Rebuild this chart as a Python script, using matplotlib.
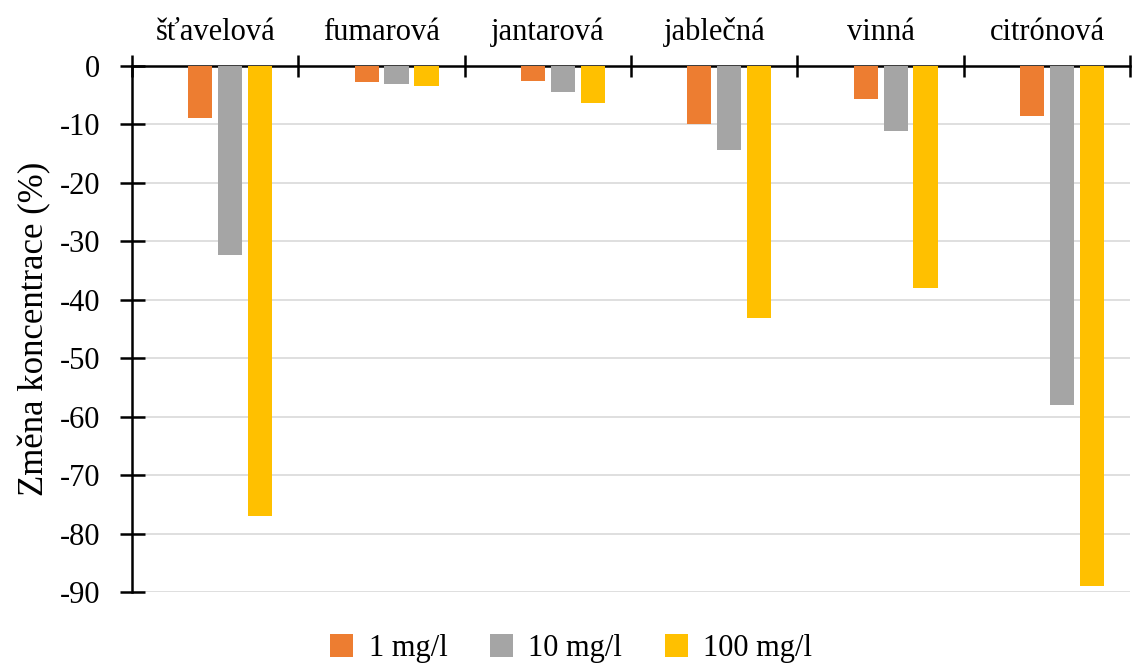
import matplotlib
matplotlib.use("Agg")
import matplotlib.pyplot as plt
import numpy as np
from matplotlib.ticker import FixedLocator, NullFormatter

categories = ["šťavelová", "fumarová", "jantarová", "jablečná", "vinná", "citrónová"]
series_names = ["1 mg/l", "10 mg/l", "100 mg/l"]
vals_1 = [-8.9, -2.8, -2.6, -10.0, -5.6, -8.6]
vals_10 = [-32.4, -3.0, -4.4, -14.3, -11.1, -58.0]
vals_100 = [-77.0, -3.5, -6.4, -43.2, -38.0, -89.0]
colors = ["#ED7D31", "#A5A5A5", "#FFC000"]

plt.rcParams["font.family"] = ["Liberation Serif", "DejaVu Serif"]
plt.rcParams["axes.unicode_minus"] = False

fig = plt.figure(figsize=(11.33, 6.64), dpi=100)
ax = fig.add_axes([0.1165, 0.1084, 0.881, 0.7922])

x = np.arange(len(categories))
offsets = [-0.09, 0.09, 0.27]
width = 0.145
for vals, off, col, name in zip([vals_1, vals_10, vals_100], offsets, colors, series_names):
    ax.bar(x + off, vals, width=width, color=col, label=name, zorder=3)

ax.set_xlim(-0.5, len(categories) - 0.5)
ax.set_ylim(-90, 0)
ax.set_yticks(np.arange(-90, 1, 10))
ax.yaxis.grid(True, color="#D9D9D9", linewidth=1.2, zorder=0)

for s in ["right", "bottom"]:
    ax.spines[s].set_visible(False)
ax.spines["left"].set_linewidth(1.8)
ax.spines["top"].set_linewidth(1.8)

ax.xaxis.tick_top()
ax.xaxis.set_major_locator(FixedLocator(np.arange(-0.5, len(categories), 1.0)))
ax.xaxis.set_major_formatter(NullFormatter())
ax.xaxis.set_minor_locator(FixedLocator(x))
ax.set_xticklabels(categories, minor=True)
ax.tick_params(axis="x", which="major", direction="inout", length=16, width=1.8, top=True, bottom=False)
ax.tick_params(axis="x", which="minor", length=0, pad=14, labelsize=22, top=True, bottom=False,
               labeltop=True, labelbottom=False)
ax.tick_params(axis="y", direction="inout", length=18, width=1.8, labelsize=22, pad=14)

ax.set_ylabel("Změna koncentrace (%)", fontsize=25, labelpad=6)

leg = ax.legend(loc="center", bbox_to_anchor=(0.44, -0.108), ncol=3, frameon=False,
                fontsize=22, handlelength=0.75, handleheight=0.75, columnspacing=1.4,
                handletextpad=0.5, borderpad=0.2)

fig.savefig("out.png", dpi=100)
